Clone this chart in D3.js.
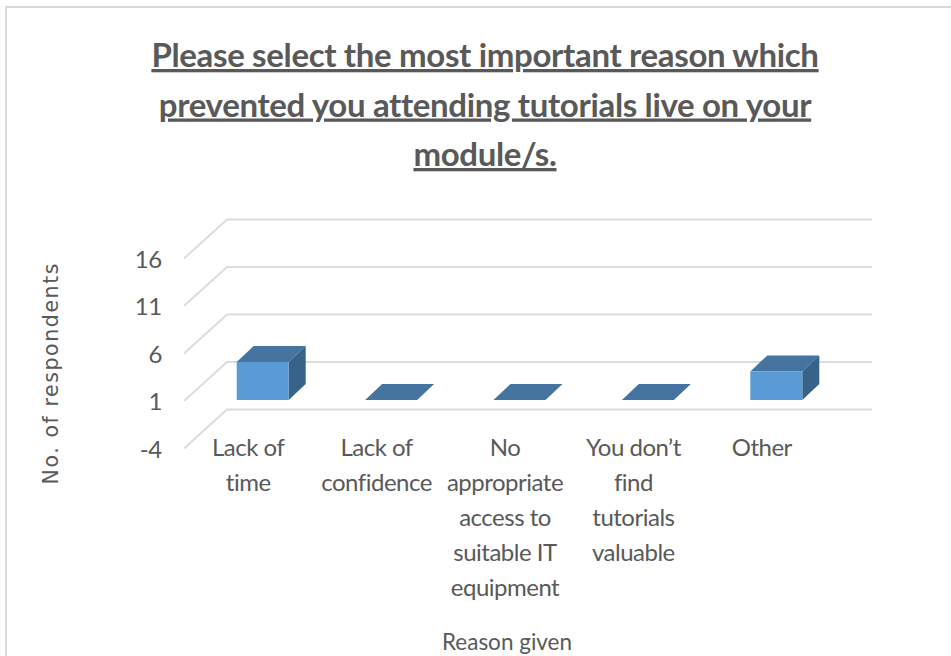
<!DOCTYPE html>
<html>
<head>
<meta charset="utf-8">
<script src="https://cdn.jsdelivr.net/npm/d3@7"></script>
<style>
  html, body { margin: 0; padding: 0; background: #fff; overflow: hidden; }
  text { font-family: Lato, "Open Sans", sans-serif; fill: #595959; }
</style>
</head>
<body>
<div id="container"></div>
<script>
const titleLines = [
  'Please select the most important reason which',
  'prevented you attending tutorials live on your',
  'module/s.'
];
const categories = ['Lack of time', 'Lack of confidence', 'No appropriate access to suitable IT equipment', 'You don’t find tutorials valuable', 'Other'];
const categoryLines = [
  ['Lack of', 'time'],
  ['Lack of', 'confidence'],
  ['No', 'appropriate', 'access to', 'suitable IT', 'equipment'],
  ['You don’t', 'find', 'tutorials', 'valuable'],
  ['Other']
];
const values = [5, 1, 1, 1, 4];
const yTicks = [-4, 1, 6, 11, 16];
const yLabel = 'No. of respondents';
const xLabel = 'Reason given';

const width = 951, height = 656;
const wallX = 43, wallY = -39;   // floor depth of the 3d plot
const barX = 17, barY = -16;     // depth of each bar

const svg = d3.select('#container').append('svg')
  .attr('width', width)
  .attr('height', height);

// chart frame, cut off by the crop on the right and bottom
svg.append('path')
  .attr('d', `M6,${height}V7H${width}`)
  .attr('fill', 'none')
  .attr('stroke', '#d9d9d9')
  .attr('stroke-width', 2);

svg.append('g').selectAll('text')
  .data(titleLines)
  .enter()
  .append('text')
  .attr('x', 485)
  .attr('y', (d, i) => 67 + i * 49.5)
  .attr('text-anchor', 'middle')
  .attr('font-size', 33)
  .attr('font-weight', 700)
  .attr('letter-spacing', -0.34)
  .attr('text-decoration', 'underline')
  .text((d) => d);

const y = d3.scaleLinear().domain([-4, 16]).range([448.5, 258.5]);
const x = d3.scaleBand().domain(categories).range([184, 826]);

// gridlines: slanted on the side wall, then flat along the back
const grid = svg.append('g');
grid.selectAll('path')
  .data(yTicks)
  .enter()
  .append('path')
  .attr('d', (d) => `M${x.range()[0]},${y(d)}l${wallX},${wallY}H872`)
  .attr('fill', 'none')
  .attr('stroke', '#dcdcdc')
  .attr('stroke-width', 2);

const yAxis = d3.axisLeft(y)
  .tickValues(yTicks)
  .tickFormat((d) => String(d))
  .tickSize(0)
  .tickPadding(0);
svg.append('g')
  .attr('transform', 'translate(162,0)')
  .call(yAxis)
  .call((g) => g.select('.domain').remove())
  .call((g) => g.selectAll('text')
    .attr('font-size', 24)
    .attr('letter-spacing', -0.3)
    .attr('dy', '0.36em'));

const barW = 52;
const base = y(1);
const bars = svg.append('g').selectAll('g')
  .data(categories)
  .enter()
  .append('g')
  .attr('transform', (d) => `translate(${x(d) + x.bandwidth() / 2 - barW / 2 + 14.5},-1)`);

// top
bars.append('path')
  .attr('d', (d, i) => `M0,${y(values[i])}l${barX},${barY}h${barW}l${-barX},${-barY}z`)
  .attr('fill', '#44749f');
// side
bars.append('path')
  .attr('d', (d, i) => `M${barW},${y(values[i])}l${barX},${barY}V${base + barY}l${-barX},${-barY}z`)
  .attr('fill', '#386388');
// front
bars.append('rect')
  .attr('x', 0)
  .attr('y', (d, i) => y(values[i]))
  .attr('width', barW)
  .attr('height', (d, i) => base - y(values[i]))
  .attr('fill', '#5b9bd5');

const labels = svg.append('g').selectAll('text')
  .data(categories)
  .enter()
  .append('text')
  .attr('text-anchor', 'middle')
  .attr('font-size', 24)
  .attr('letter-spacing', -0.5)
  .attr('y', 456);

labels.selectAll('tspan')
  .data((d, i) => categoryLines[i].map((line) => ({ line, cx: x(d) + x.bandwidth() / 2 })))
  .enter()
  .append('tspan')
  .attr('x', (d) => d.cx)
  .attr('y', (d, i) => 456 + i * 35)
  .text((d) => d.line);

svg.append('text')
  .attr('x', 507)
  .attr('y', 650)
  .attr('text-anchor', 'middle')
  .attr('font-size', 22.5)
  .text(xLabel);

svg.append('text')
  .attr('transform', 'translate(58,374) rotate(-90)')
  .attr('text-anchor', 'middle')
  .attr('font-size', 20.5)
  .attr('textLength', 221)
  .style('font-family', '"DejaVu Sans"')
  .text(yLabel);
</script>
</body>
</html>
